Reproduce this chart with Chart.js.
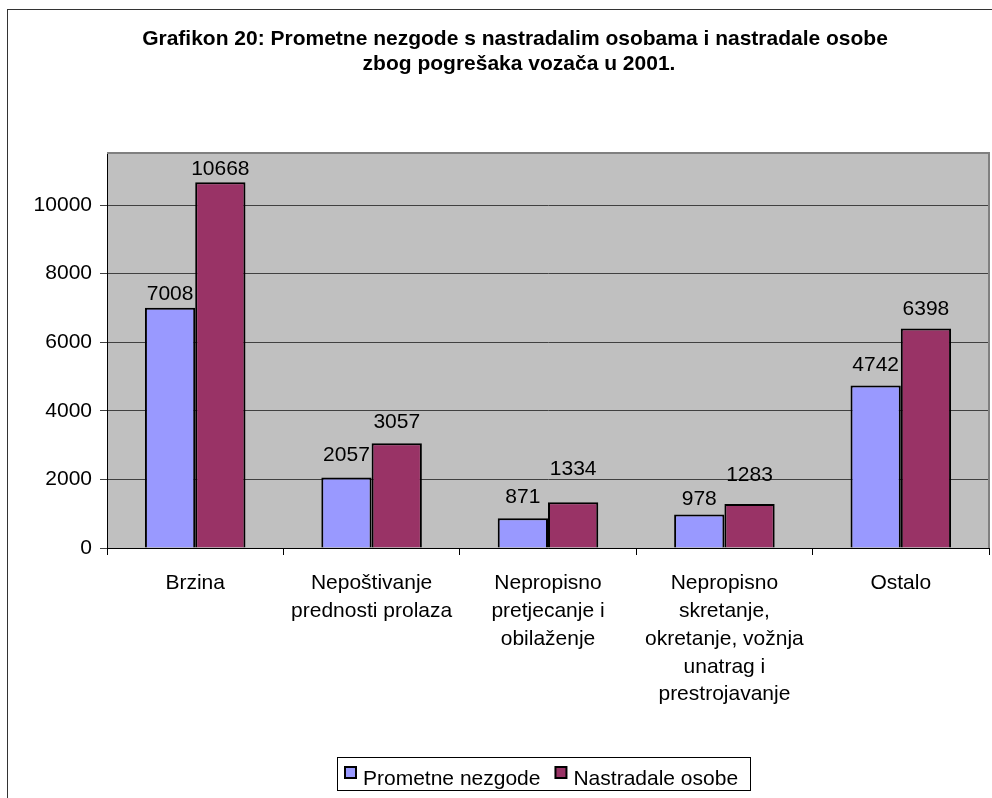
<!DOCTYPE html>
<html lang="hr">
<head>
<meta charset="UTF-8">
<title>Grafikon 20</title>
<script src="https://cdn.jsdelivr.net/npm/chart.js"></script>
<style>
    html, body { margin: 0; padding: 0; background: #fff; overflow: hidden; }
    #frame {
        position: absolute; left: 7px; top: 9px;
        width: 1100px; height: 900px;
        border: 1px solid #333;
    }
    #grafikon { position: absolute; left: 0; top: 0; }
</style>
</head>
<body>
<div id="frame"></div>
<canvas id="grafikon" width="992" height="798"></canvas>
<script>
    const titleLines = ['Grafikon 20: Prometne nezgode s nastradalim osobama i nastradale osobe',
                        'zbog pogrešaka vozača u 2001.'];
    const categories = [
        ['Brzina'],
        ['Nepoštivanje', 'prednosti prolaza'],
        ['Nepropisno', 'pretjecanje i', 'obilaženje'],
        ['Nepropisno', 'skretanje,', 'okretanje, vožnja', 'unatrag i', 'prestrojavanje'],
        ['Ostalo']
    ];
    const seriesNames = ['Prometne nezgode', 'Nastradale osobe'];
    const prometneNezgode = [7008, 2057, 871, 978, 4742];
    const nastradaleOsobe = [10668, 3057, 1334, 1283, 6398];
    const yTicks = [0, 2000, 4000, 6000, 8000, 10000];

    const colors = ['#9999FF', '#993366'];
    const font = 'Arial, "Liberation Sans", sans-serif';
    // how far (px) each value label sits above its bar, as Excel placed them
    const labelLift = [[15, 24, 23, 17, 22], [15, 23, 35, 31, 21]];

    // grey plot background and the thin grey frame on top/right
    const plotArea = {
        id: 'plotArea',
        beforeDraw(chart) {
            const a = chart.chartArea, ctx = chart.ctx;
            ctx.save();
            ctx.fillStyle = '#C0C0C0';
            ctx.fillRect(a.left, a.top, a.right - a.left, a.bottom - a.top);
            ctx.restore();
        },
        beforeDatasetsDraw(chart) {
            const a = chart.chartArea, ctx = chart.ctx;
            ctx.save();
            ctx.strokeStyle = '#808080';
            ctx.lineWidth = 2;
            ctx.beginPath();
            ctx.moveTo(a.left, a.top);
            ctx.lineTo(a.right, a.top);
            ctx.lineTo(a.right, a.bottom);
            ctx.stroke();
            ctx.restore();
        }
    };

    // value labels above bars, title and boxed legend
    const extras = {
        id: 'extras',
        afterDatasetsDraw(chart) {
            const ctx = chart.ctx;
            ctx.save();
            ctx.fillStyle = '#000';
            ctx.font = '21px ' + font;
            ctx.textAlign = 'center';
            ctx.textBaseline = 'alphabetic';
            chart.data.datasets.forEach((ds, i) => {
                chart.getDatasetMeta(i).data.forEach((bar, j) => {
                    ctx.fillText(ds.data[j], bar.x, bar.y - labelLift[i][j] + 7.5);
                });
            });

            // title
            ctx.font = 'bold 21px ' + font;
            ctx.fillText(titleLines[0], 515, 45);
            ctx.fillText(titleLines[1], 519, 70);

            // legend
            ctx.font = '21px ' + font;
            ctx.textAlign = 'left';
            const sq = 11, gap = 7, itemGap = 15;
            const widths = seriesNames.map(n => ctx.measureText(n).width);
            const boxL = 337, boxR = 750, boxT = 757, boxB = 790;
            ctx.strokeStyle = '#000';
            ctx.lineWidth = 1;
            ctx.strokeRect(boxL + 0.5, boxT + 0.5, boxR - boxL, boxB - boxT);
            let x = 345;
            seriesNames.forEach((n, i) => {
                ctx.fillStyle = colors[i];
                ctx.fillRect(x, 767, sq, sq);
                ctx.lineWidth = 2;
                ctx.strokeRect(x, 767, sq, sq);
                ctx.fillStyle = '#000';
                ctx.fillText(n, x + sq + gap, 785);
                x += sq + gap + widths[i] + itemGap;
            });
            ctx.restore();
        }
    };

    new Chart(document.getElementById('grafikon'), {
        type: 'bar',
        data: {
            labels: categories,
            datasets: [
                { label: seriesNames[0], data: prometneNezgode, backgroundColor: colors[0] },
                { label: seriesNames[1], data: nastradaleOsobe, backgroundColor: colors[1] }
            ]
        },
        options: {
            responsive: false,
            animation: false,
            layout: { padding: { top: 153, right: 3, left: 0, bottom: 0 } },
            datasets: {
                bar: {
                    borderColor: '#000',
                    borderWidth: 2,
                    categoryPercentage: 0.57,
                    barPercentage: 1
                }
            },
            plugins: {
                legend: { display: false },
                title: { display: false },
                tooltip: { enabled: false }
            },
            scales: {
                x: {
                    afterFit: s => { s.height = 250; },
                    grid: {
                        drawOnChartArea: false,
                        color: '#000',
                        tickLength: 7
                    },
                    border: { color: '#000', width: 1 },
                    ticks: {
                        color: '#000',
                        font: { family: font, size: 21, lineHeight: 1.33 },
                        padding: 14,
                        maxRotation: 0,
                        autoSkip: false
                    }
                },
                y: {
                    min: 0,
                    max: 11520,
                    afterFit: s => { s.width = 107; },
                    afterBuildTicks: s => { s.ticks = yTicks.map(v => ({ value: v })); },
                    grid: {
                        color: '#404040',
                        tickLength: 7
                    },
                    border: { color: '#000', width: 1 },
                    ticks: {
                        color: '#000',
                        font: { family: font, size: 21 },
                        padding: 8,
                        callback: v => String(v)
                    }
                }
            }
        },
        plugins: [plotArea, extras]
    });
</script>
</body>
</html>
